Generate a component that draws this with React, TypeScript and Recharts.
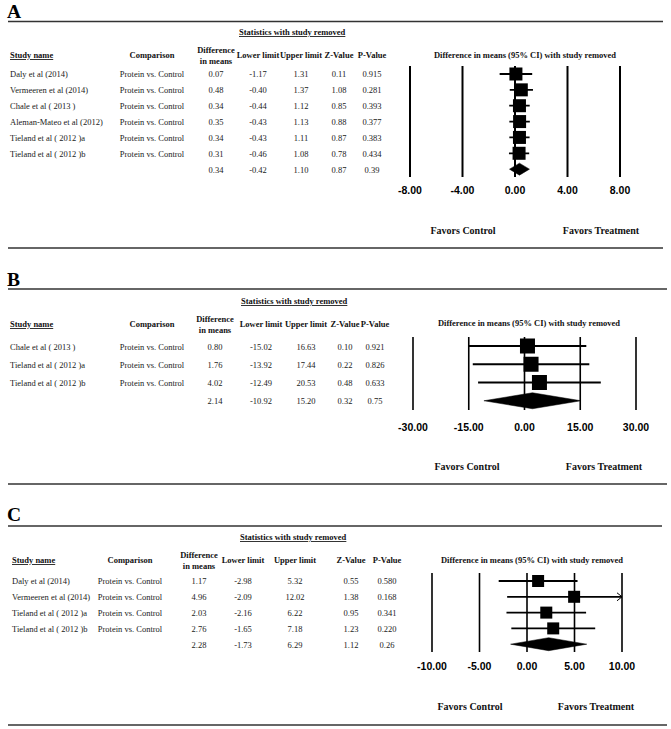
import React from 'react';
import { ComposedChart, Bar, XAxis, YAxis, CartesianGrid } from 'recharts';

// ---------- Panel A data ----------
const studiesA = ['Daly et al (2014)', 'Vermeeren et al (2014)', 'Chale et al ( 2013 )', 'Aleman-Mateo et al (2012)', 'Tieland et al ( 2012 )a', 'Tieland et al ( 2012 )b'];
const diffA = [0.07, 0.48, 0.34, 0.35, 0.34, 0.31];
const lowerA = [-1.17, -0.4, -0.44, -0.43, -0.43, -0.46];
const upperA = [1.31, 1.37, 1.12, 1.13, 1.11, 1.08];
const zA = [0.11, 1.08, 0.85, 0.88, 0.87, 0.78];
const pA = [0.915, 0.281, 0.393, 0.377, 0.383, 0.434];
const summaryA = [0.34, -0.42, 1.1, 0.87, 0.39];
const ticksA = [-8, -4, 0, 4, 8];

// ---------- Panel B data ----------
const studiesB = ['Chale et al ( 2013 )', 'Tieland et al ( 2012 )a', 'Tieland et al ( 2012 )b'];
const diffB = [0.8, 1.76, 4.02];
const lowerB = [-15.02, -13.92, -12.49];
const upperB = [16.63, 17.44, 20.53];
const zB = [0.1, 0.22, 0.48];
const pB = [0.921, 0.826, 0.633];
const summaryB = [2.14, -10.92, 15.2, 0.32, 0.75];
const ticksB = [-30, -15, 0, 15, 30];

// ---------- Panel C data ----------
const studiesC = ['Daly et al (2014)', 'Vermeeren et al (2014)', 'Tieland et al ( 2012 )a', 'Tieland et al ( 2012 )b'];
const diffC = [1.17, 4.96, 2.03, 2.76];
const lowerC = [-2.98, -2.09, -2.16, -1.65];
const upperC = [5.32, 12.02, 6.22, 7.18];
const zC = [0.55, 1.38, 0.95, 1.23];
const pC = [0.58, 0.168, 0.341, 0.22];
const summaryC = [2.28, -1.73, 6.29, 1.12, 0.26];
const ticksC = [-10, -5, 0, 5, 10];

const comparisonLabel = 'Protein vs. Control';
const panelLetters = ['A', 'B', 'C'];

const W = 671;
const H = 729;
const SERIF = '"Liberation Serif", "Times New Roman", serif';
const SANS = '"Liberation Sans", Arial, sans-serif';

type Row = {
  id: string;
  name: string;
  comparison: string;
  diff: number;
  lower: number;
  upper: number;
  z: number;
  p: number;
  summary: boolean;
};

function buildRows(names: string[], diff: number[], lower: number[], upper: number[], z: number[], p: number[], summary: number[]): Row[] {
  const rows: Row[] = names.map((n, i) => ({
    id: 'r' + i,
    name: n,
    comparison: comparisonLabel,
    diff: diff[i],
    lower: lower[i],
    upper: upper[i],
    z: z[i],
    p: p[i],
    summary: false,
  }));
  rows.push({
    id: 'sum',
    name: '',
    comparison: '',
    diff: summary[0],
    lower: summary[1],
    upper: summary[2],
    z: summary[3],
    p: summary[4],
    summary: true,
  });
  return rows;
}

type Layout = {
  ruleTop: number;
  ruleBottom: number;
  ruleRight: number;
  letterY: number;
  statsX: number;
  statsY: number;
  headY: number;
  cols: { name: number; comp: number; diff: number; lower: number; upper: number; z: number; p: number };
  plot: { left: number; right: number; top: number; bottom: number };
  titleX: number;
  titleY: number;
  favorsY: number;
  favorsCX: number;
  favorsTX: number;
  mark: number;
  diamond: number;
  grid: number;
  tickMargin: number;
};

const layoutA: Layout = {
  ruleTop: 21.5, ruleBottom: 248, ruleRight: 663, letterY: 18, statsX: 239, statsY: 35, headY: 58,
  cols: { name: 10, comp: 152, diff: 216, lower: 258, upper: 301, z: 339, p: 372 },
  plot: { left: 410, right: 620, top: 66, bottom: 177 },
  titleX: 525, titleY: 58, favorsY: 233.5, favorsCX: 463, favorsTX: 601, mark: 13, diamond: 12, grid: 2, tickMargin: 4,
};
const layoutB: Layout = {
  ruleTop: 289, ruleBottom: 484, ruleRight: 667, letterY: 285.5, statsX: 241, statsY: 304, headY: 327,
  cols: { name: 10, comp: 152, diff: 215, lower: 261, upper: 306, z: 345, p: 375 },
  plot: { left: 413, right: 636, top: 337, bottom: 410 },
  titleX: 529, titleY: 326, favorsY: 469.5, favorsCX: 467, favorsTX: 604, mark: 15, diamond: 16, grid: 1.6, tickMargin: 8,
};
const layoutC: Layout = {
  ruleTop: 526, ruleBottom: 725, ruleRight: 662, letterY: 520.5, statsX: 240, statsY: 540, headY: 563,
  cols: { name: 12, comp: 130, diff: 199, lower: 243, upper: 295, z: 351, p: 387 },
  plot: { left: 432, right: 622, top: 573, bottom: 652 },
  titleX: 532, titleY: 563, favorsY: 709.5, favorsCX: 470, favorsTX: 596, mark: 12, diamond: 13, grid: 1.6, tickMargin: 4.5,
};

const panels = [
  { rows: buildRows(studiesA, diffA, lowerA, upperA, zA, pA, summaryA), ticks: ticksA, layout: layoutA },
  { rows: buildRows(studiesB, diffB, lowerB, upperB, zB, pB, summaryB), ticks: ticksB, layout: layoutB },
  { rows: buildRows(studiesC, diffC, lowerC, upperC, zC, pC, summaryC), ticks: ticksC, layout: layoutC },
];

const bodyText = { fontFamily: SERIF, fontSize: 8.5, fill: '#1a1a1a' };
const boldText = { fontFamily: SERIF, fontSize: 8.5, fontWeight: 700, fill: '#111' };

function RowTick(props: any) {
  const { y, payload, rows, layout } = props;
  const row: Row | undefined = rows.find((r: Row) => r.id === payload.value);
  if (!row) return null;
  const c = layout.cols;
  const by = y + 3.5;
  return (
    <g>
      {row.name && <text x={c.name} y={by} style={bodyText as any}>{row.name}</text>}
      {row.comparison && <text x={c.comp} y={by} textAnchor="middle" style={bodyText as any}>{row.comparison}</text>}
      <text x={c.diff} y={by} textAnchor="middle" style={bodyText as any}>{row.diff.toFixed(2)}</text>
      <text x={c.lower} y={by} textAnchor="middle" style={bodyText as any}>{row.lower.toFixed(2)}</text>
      <text x={c.upper} y={by} textAnchor="middle" style={bodyText as any}>{row.upper.toFixed(2)}</text>
      <text x={c.z} y={by} textAnchor="middle" style={bodyText as any}>{row.z.toFixed(2)}</text>
      <text x={c.p} y={by} textAnchor="middle" style={bodyText as any}>{row.summary ? row.p.toFixed(2) : row.p.toFixed(3)}</text>
    </g>
  );
}

function ForestMark(props: any) {
  const { x, y, width, height, payload, layout, domainMax } = props;
  if (x == null || width == null) return null;
  const row: Row = payload;
  const cy = y + height / 2;
  const hiVal = Math.min(row.upper, domainMax);
  const xd = x + (width * (row.diff - row.lower)) / (hiVal - row.lower);
  if (row.summary) {
    const h = layout.diamond / 2;
    return (
      <polygon
        points={`${x},${cy} ${xd},${cy - h} ${x + width},${cy} ${xd},${cy + h}`}
        fill="#000"
        stroke="#000"
        strokeWidth={0.5}
      />
    );
  }
  const s = layout.mark;
  const overflow = row.upper > domainMax;
  const xe = x + width;
  return (
    <g>
      <line x1={x} y1={cy} x2={xe} y2={cy} stroke="#000" strokeWidth={1.8} />
      {overflow && (
        <polyline points={`${xe - 5},${cy - 4} ${xe},${cy} ${xe - 5},${cy + 4}`} fill="none" stroke="#000" strokeWidth={1} />
      )}
      <rect x={xd - s / 2} y={cy - s / 2} width={s} height={s} fill="#000" />
    </g>
  );
}

function ForestChart({ rows, ticks, layout }: { rows: Row[]; ticks: number[]; layout: Layout }) {
  const dMin = ticks[0];
  const dMax = ticks[ticks.length - 1];
  const p = layout.plot;
  return (
    <div style={{ position: 'absolute', left: 0, top: 0 }}>
      <ComposedChart
        width={W}
        height={p.bottom + 30}
        layout="vertical"
        data={rows}
        margin={{ top: p.top, right: W - p.right, bottom: 0, left: 0 }}
        barCategoryGap={0}
      >
        <CartesianGrid horizontal={false} vertical stroke="#000" strokeWidth={layout.grid} />
        <XAxis
          type="number"
          domain={[dMin, dMax]}
          ticks={ticks}
          allowDataOverflow
          axisLine={false}
          tickLine={false}
          tickMargin={layout.tickMargin}
          height={30}
          interval={0}
          tickFormatter={(v: number) => v.toFixed(2)}
          tick={{ fontFamily: SANS, fontWeight: 700, fontSize: 10.5, fill: '#000' }}
        />
        <YAxis
          type="category"
          dataKey="id"
          width={p.left}
          axisLine={false}
          tickLine={false}
          interval={0}
          tick={(tp: any) => <RowTick {...tp} rows={rows} layout={layout} />}
        />
        <Bar
          dataKey={(d: Row) => [d.lower, Math.min(d.upper, dMax)]}
          isAnimationActive={false}
          shape={(sp: any) => <ForestMark {...sp} layout={layout} domainMax={dMax} />}
        />
      </ComposedChart>
    </div>
  );
}

function Decorations() {
  return (
    <svg width={W} height={H} style={{ position: 'absolute', left: 0, top: 0, pointerEvents: 'none' }}>
      {panels.map((pn, i) => {
        const L = pn.layout;
        const c = L.cols;
        return (
          <g key={i}>
            <text x={7} y={L.letterY} style={{ fontFamily: SERIF, fontSize: 19.5, fontWeight: 700, fill: '#000' }}>{panelLetters[i]}</text>
            <line x1={8} y1={L.ruleTop} x2={L.ruleRight} y2={L.ruleTop} stroke="#333" strokeWidth={1.4} />
            <line x1={8} y1={L.ruleBottom} x2={L.ruleRight + (i === 2 ? 5 : 0)} y2={L.ruleBottom} stroke="#333" strokeWidth={1.4} />
            <text x={L.statsX} y={L.statsY} style={{ ...boldText, textDecoration: 'underline' } as any}>Statistics with study removed</text>
            <text x={c.name} y={L.headY} style={{ ...boldText, textDecoration: 'underline' } as any}>Study name</text>
            <text x={c.comp} y={L.headY} textAnchor="middle" style={boldText as any}>Comparison</text>
            <text x={c.diff} y={L.headY - 5.5} textAnchor="middle" style={boldText as any}>Difference</text>
            <text x={c.diff} y={L.headY + 5.5} textAnchor="middle" style={boldText as any}>in means</text>
            <text x={c.lower} y={L.headY} textAnchor="middle" style={boldText as any}>Lower limit</text>
            <text x={c.upper} y={L.headY} textAnchor="middle" style={boldText as any}>Upper limit</text>
            <text x={c.z} y={L.headY} textAnchor="middle" style={boldText as any}>Z-Value</text>
            <text x={c.p} y={L.headY} textAnchor="middle" style={boldText as any}>P-Value</text>
            <text x={L.titleX} y={L.titleY} textAnchor="middle" style={boldText as any}>Difference in means (95% CI) with study removed</text>
            <text x={L.favorsCX} y={L.favorsY} textAnchor="middle" style={{ fontFamily: SERIF, fontSize: 10, fontWeight: 700, fill: '#111' }}>Favors Control</text>
            <text x={L.favorsTX} y={L.favorsY} textAnchor="middle" style={{ fontFamily: SERIF, fontSize: 10, fontWeight: 700, fill: '#111' }}>Favors Treatment</text>
          </g>
        );
      })}
    </svg>
  );
}

export default function App() {
  return (
    <div style={{ position: 'absolute', left: 0, top: 0, width: W, height: H, background: '#fff', overflow: 'hidden' }}>
      {panels.map((pn, i) => (
        <ForestChart key={i} rows={pn.rows} ticks={pn.ticks} layout={pn.layout} />
      ))}
      <Decorations />
    </div>
  );
}
